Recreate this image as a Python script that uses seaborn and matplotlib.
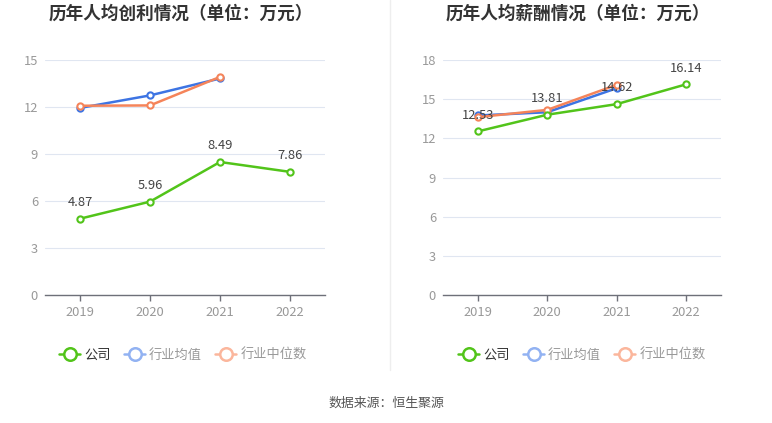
import pandas as pd
import matplotlib
matplotlib.use("Agg")
import matplotlib.pyplot as plt
import seaborn as sns
from matplotlib.lines import Line2D

# data
years = ["2019", "2020", "2021", "2022"]
profit_company = [4.87, 5.96, 8.49, 7.86]
profit_avg = [11.94, 12.74, 13.82]
profit_median = [12.08, 12.10, 13.92]
salary_company = [12.53, 13.81, 14.62, 16.14]
salary_avg = [13.75, 14.00, 15.84]
salary_median = [13.62, 14.18, 16.10]

titles = ["历年人均创利情况（单位：万元）", "历年人均薪酬情况（单位：万元）"]
series_names = ["公司", "行业均值", "行业中位数"]
green, blue, orange = "#52c41a", "#3d74e3", "#f5845a"

sns.set_theme(style="white")
plt.rcParams["font.family"] = ["Noto Sans CJK SC", "DejaVu Sans"]

W, H = 772, 423
fig = plt.figure(figsize=(W / 100, H / 100), dpi=100)

def draw(left_px, right_px, company, avg, median, ymax, title, legend_cx):
    ax = fig.add_axes([left_px / W, 128 / H, (right_px - left_px) / W, 235 / H])
    df = pd.DataFrame({"x": range(len(years)), "y": company})
    for vals, col in [(avg, blue), (median, orange)]:
        d = pd.DataFrame({"x": range(len(vals)), "y": vals})
        sns.lineplot(data=d, x="x", y="y", ax=ax, color=col, lw=1.8, marker="o",
                     markersize=4.5, markerfacecolor="white", markeredgecolor=col,
                     markeredgewidth=1.5)
    sns.lineplot(data=df, x="x", y="y", ax=ax, color=green, lw=1.8, marker="o",
                 markersize=4.5, markerfacecolor="white", markeredgecolor=green,
                 markeredgewidth=1.5)
    for i, v in enumerate(company):
        ax.annotate(f"{v:.2f}", (i, v), xytext=(0, 7), textcoords="offset points",
                    ha="center", va="bottom", fontsize=9.3, color="#444444")
    ax.set_xlim(-0.5, len(years) - 0.5)
    ax.set_ylim(0, ymax)
    ax.set_yticks(range(0, ymax + 1, 3))
    ax.set_xticks(range(len(years)))
    ax.set_xticklabels(years)
    ax.set_xlabel("")
    ax.set_ylabel("")
    ax.grid(axis="y", color="#e0e6f1", lw=0.8)
    ax.set_axisbelow(True)
    for s in ["top", "right", "left"]:
        ax.spines[s].set_visible(False)
    ax.spines["bottom"].set_color("#6e7079")
    ax.spines["bottom"].set_linewidth(1)
    ax.tick_params(axis="x", colors="#999999", labelsize=9.3, length=4, width=1,
                   direction="out", bottom=True, pad=4)
    ax.tick_params(axis="x", color="#6e7079")
    ax.tick_params(axis="y", colors="#999999", labelsize=9.3, length=0, pad=5)
    fig.text((left_px + right_px) / 2 / W - 0.005, 1 - 14 / H, title, ha="center",
             va="center", fontsize=12.7, fontweight="bold", color="#333333")
    handles = [
        Line2D([], [], color=green, lw=1.8, marker="o", markersize=9,
               markerfacecolor="white", markeredgewidth=1.8),
        Line2D([], [], color="#92b2f2", lw=1.8, marker="o", markersize=9,
               markerfacecolor="white", markeredgewidth=1.8),
        Line2D([], [], color="#fbb69c", lw=1.8, marker="o", markersize=9,
               markerfacecolor="white", markeredgewidth=1.8),
    ]
    leg = fig.legend(handles, series_names, loc="center", ncol=3, frameon=False,
                     bbox_to_anchor=(legend_cx / W, 1 - 355 / H), fontsize=9.5,
                     handlelength=1.6, handletextpad=0.3, columnspacing=1.0)
    for t, c in zip(leg.get_texts(), ["#333333", "#999999", "#999999"]):
        t.set_color(c)
    return ax

draw(45, 325, profit_company, profit_avg, profit_median, 15, titles[0], 183)
draw(443, 721, salary_company, salary_avg, salary_median, 18, titles[1], 582)

fig.add_artist(Line2D([390 / W, 390 / W], [1 - 370 / H, 1.0], color="#eeeeee", lw=1))
fig.text(386 / W, 1 - 403 / H, "数据来源：恒生聚源", ha="center", va="center",
         fontsize=9.3, color="#555555")

fig.savefig("out.png", dpi=100, facecolor="white")
